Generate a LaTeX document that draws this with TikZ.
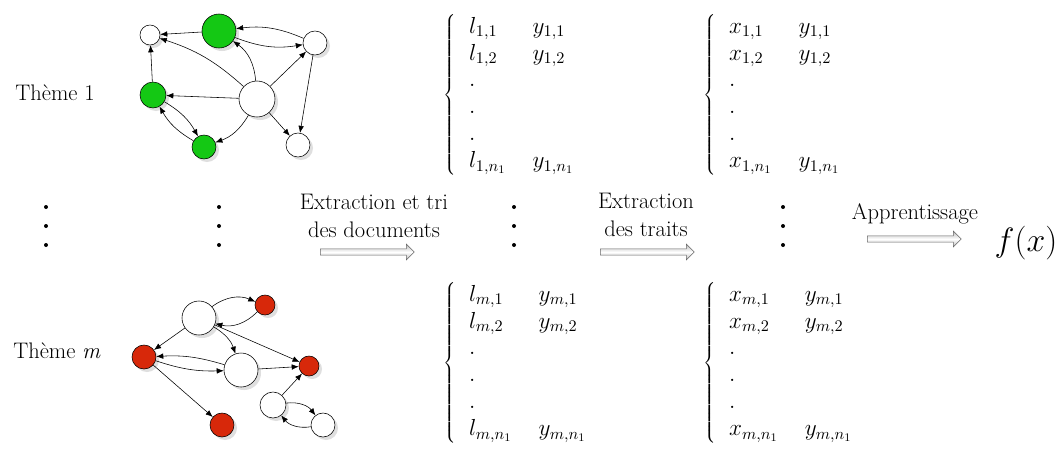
\RequirePackage{fix-cm}
\documentclass[tikz,border=0pt]{standalone}
\usepackage{fontspec}
\usetikzlibrary{arrows.meta,shadows,shapes.arrows}

\begin{document}
\begin{tikzpicture}[x=0.025cm,y=-0.025cm,font=\fontsize{16}{20}\selectfont]
\tikzset{noeudb/.style={draw, circle, inner sep=0pt, fill=white, drop shadow={opacity=0.25}},
  noeudv/.style={noeudb, fill={rgb,255:red,20;green,200;blue,20}},
  noeudr/.style={noeudb, fill={rgb,255:red,215;green,40;blue,10}},
  fl/.style={-{Latex[length=5pt,width=4pt]}},
  fleche/.style={single arrow, draw=gray!80!black, top color=gray!55, bottom color=gray!55, middle color=white,
    minimum height=2.35cm, minimum width=0.4cm, inner sep=0.07cm, single arrow head extend=0.12cm, anchor=tail},
  ens/.style={anchor=west, inner sep=0pt, font=\fontsize{16.5}{20}\selectfont},
  pt/.style={circle, fill=black, inner sep=0pt, minimum size=0.1cm}}
\useasboundingbox (0,0) rectangle (1062,450);
% theme 1
\node (T1) at (55,93) {Th\`eme 1};
\node[noeudb, minimum size=0.5cm] (A) at (150,35) {};
\node[noeudv, minimum size=0.85cm] (G1) at (219,31) {};
\node[noeudb, minimum size=0.6cm] (B) at (315,43) {};
\node[noeudb, minimum size=0.9cm] (C) at (257,99) {};
\node[noeudv, minimum size=0.65cm] (G2) at (153,95) {};
\node[noeudv, minimum size=0.6cm] (G3) at (204,147) {};
\node[noeudb, minimum size=0.6cm] (D) at (298,145) {};
\draw[fl] (G1) -- (A);
\draw[fl] (C) to[bend right=12] (A);
\draw[fl] (G2) -- (A);
\draw[fl] (C) to[bend right=25] (G1);
\draw[fl] (B) to[bend right=15] (G1);
\draw[fl] (G1) to[bend right=15] (B);
\draw[fl] (C) -- (B);
\draw[fl] (B) -- (D);
\draw[fl] (C) -- (D);
\draw[fl] (C) -- (G2);
\draw[fl] (C) to[bend left=20] (G3);
\draw[fl] (G2) to[bend left=15] (G3);
\draw[fl] (G3) to[bend left=15] (G2);
% theme m
\node (Tm) at (57,351) {Th\`eme \textit{m}};
\node[noeudb, minimum size=0.85cm] (W1) at (199,318) {};
\node[noeudr, minimum size=0.5cm] (R1) at (265,305) {};
\node[noeudr, minimum size=0.6cm] (R2) at (144,357) {};
\node[noeudb, minimum size=0.85cm] (W2) at (241,370) {};
\node[noeudr, minimum size=0.5cm] (R3) at (309,366) {};
\node[noeudb, minimum size=0.65cm] (W3) at (273,405) {};
\node[noeudb, minimum size=0.6cm] (W4) at (323,425) {};
\node[noeudr, minimum size=0.6cm] (R4) at (222,425) {};
\draw[fl] (W1) to[bend left=30] (R1);
\draw[fl] (R1) to[bend left=30] (W1);
\draw[fl] (W1) -- (R2);
\draw[fl] (W1) to[bend left=20] (W2);
\draw[fl] (W1) -- (R3);
\draw[fl] (W2) to[bend right=10] (R2);
\draw[fl] (R2) to[bend right=10] (W2);
\draw[fl] (W2) -- (R3);
\draw[fl] (R2) -- (R4);
\draw[fl] (W3) -- (R3);
\draw[fl] (W3) to[bend left=30] (W4);
\draw[fl] (W4) to[bend left=30] (W3);
% points de suspension
\foreach \x/\n in {46/a, 219/b, 514/c, 783/d}
  \foreach \y in {207,226,245}
    \node[pt] (p\n\y) at (\x,\y) {};
% ensembles
\node[ens] (E1) at (443,95)
  {\arraycolsep=9.5pt\renewcommand{\arraystretch}{0.955}$\left\{\begin{array}{ll}
  l_{1,1} & y_{1,1}\\ l_{1,2} & y_{1,2}\\ . & \\ . & \\ . & \\ l_{1,n_1} & y_{1,n_1}\end{array}\right.$};
\node[ens] (X1) at (703,95)
  {\arraycolsep=9.5pt\renewcommand{\arraystretch}{0.955}$\left\{\begin{array}{ll}
  x_{1,1} & y_{1,1}\\ x_{1,2} & y_{1,2}\\ . & \\ . & \\ . & \\ x_{1,n_1} & y_{1,n_1}\end{array}\right.$};
\node[ens] (Em) at (443,363)
  {\arraycolsep=9.5pt\renewcommand{\arraystretch}{0.955}$\left\{\begin{array}{ll}
  l_{m,1} & y_{m,1}\\ l_{m,2} & y_{m,2}\\ . & \\ . & \\ . & \\ l_{m,n_1} & y_{m,n_1}\end{array}\right.$};
\node[ens] (Xm) at (703,363)
  {\arraycolsep=9.5pt\renewcommand{\arraystretch}{0.955}$\left\{\begin{array}{ll}
  x_{m,1} & y_{m,1}\\ x_{m,2} & y_{m,2}\\ . & \\ . & \\ . & \\ x_{m,n_1} & y_{m,n_1}\end{array}\right.$};
% etapes
\node[align=center] (L1) at (374,216) {Extraction et tri\\des documents};
\node[fleche] (F1) at (320,252) {};
\node[align=center] (L2) at (646,215) {Extraction\\des traits};
\node[fleche] (F2) at (600,252) {};
\node (L3) at (915,214) {Apprentissage};
\node[fleche] (F3) at (867,239) {};
\node (f) at (1026,243) {\fontsize{24}{28}\selectfont$f(x)$};
\end{tikzpicture}
\end{document}
